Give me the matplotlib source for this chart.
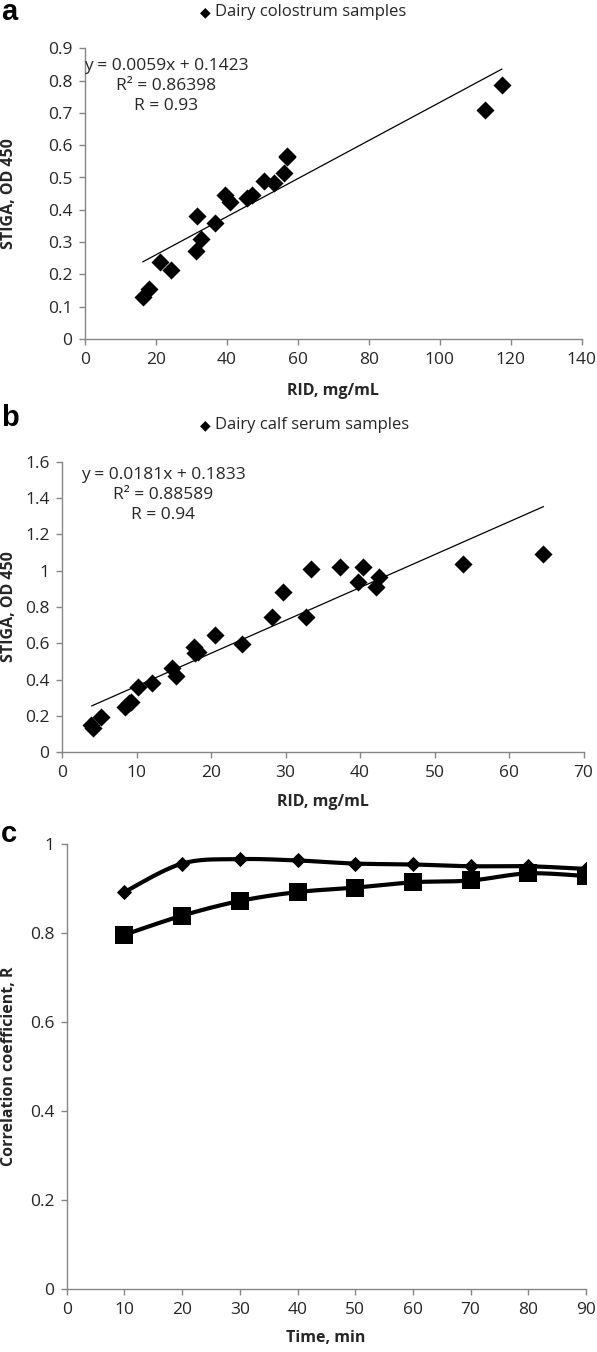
import numpy as np
import matplotlib
matplotlib.use("Agg")
import matplotlib.pyplot as plt

plt.rcParams['font.family'] = ['Open Sans', 'DejaVu Sans']

# ==== data ====
# panel a: dairy colostrum
col_rid = [16.4, 18.0, 21.2, 24.3, 31.3, 31.7, 32.8, 36.6, 39.4, 40.9, 45.8, 47.1,
           50.4, 53.3, 56.1, 56.9, 57.1, 112.9, 117.5]
col_od = [0.131, 0.156, 0.237, 0.215, 0.273, 0.380, 0.309, 0.358, 0.447, 0.423, 0.437, 0.445,
          0.490, 0.482, 0.514, 0.562, 0.568, 0.708, 0.785]
col_slope, col_icpt = 0.0059, 0.1423

# panel b: dairy calf serum
ser_rid = [3.9, 4.2, 5.3, 8.5, 9.0, 9.3, 10.15, 12.1, 14.7, 15.25, 17.7, 17.8, 18.2, 20.6,
           24.1, 28.2, 29.7, 32.75, 33.4, 37.3, 39.75, 40.4, 42.2, 42.6, 53.8, 64.6]
ser_od = [0.150, 0.132, 0.193, 0.251, 0.270, 0.279, 0.358, 0.380, 0.462, 0.420, 0.582, 0.545,
          0.554, 0.646, 0.598, 0.747, 0.884, 0.745, 1.009, 1.018, 0.936, 1.022, 0.908, 0.967,
          1.037, 1.090]
ser_slope, ser_icpt = 0.0181, 0.1833

# panel c: correlation over time
time_min = [10, 20, 30, 40, 50, 60, 70, 80, 90]
r_diamond = [0.892, 0.956, 0.966, 0.963, 0.956, 0.954, 0.950, 0.950, 0.944]
r_square = [0.796, 0.839, 0.872, 0.892, 0.902, 0.914, 0.918, 0.934, 0.928]

W, H = 597, 1352
fig = plt.figure(figsize=(W / 100, H / 100), dpi=100)

def box(x0, x1, ybot, ytop):
    # pixel box -> figure fraction
    return [x0 / W, 1 - ybot / H, (x1 - x0) / W, (ybot - ytop) / H]

def ftext(x, y, s, **kw):
    return fig.text(x / W, 1 - y / H, s, **kw)

def style(ax):
    for s in ['top', 'right']:
        ax.spines[s].set_visible(False)
    for s in ['left', 'bottom']:
        ax.spines[s].set_color('#868686')
        ax.spines[s].set_linewidth(1.0)
    ax.tick_params(direction='out', length=4, width=1.0, color='#868686',
                   labelsize=12.5, labelcolor='#262626', pad=5)
    ax.patch.set_alpha(0)

def smooth(x, y, n=20):
    # excel-like smoothed line (bezier)
    x = np.asarray(x, float); y = np.asarray(y, float)
    px = np.concatenate([[x[0]], x, [x[-1]]])
    py = np.concatenate([[y[0]], y, [y[-1]]])
    xs, ys = [], []
    t = np.linspace(0, 1, n)
    for i in range(1, len(x)):
        p0 = np.array([px[i], py[i]]); p3 = np.array([px[i + 1], py[i + 1]])
        p1 = p0 + (np.array([px[i + 1], py[i + 1]]) - np.array([px[i - 1], py[i - 1]])) / 6
        p2 = p3 - (np.array([px[i + 2], py[i + 2]]) - np.array([px[i], py[i]])) / 6
        b = ((1 - t) ** 3)[:, None] * p0 + (3 * (1 - t) ** 2 * t)[:, None] * p1 \
            + (3 * (1 - t) * t ** 2)[:, None] * p2 + (t ** 3)[:, None] * p3
        xs.extend(b[:, 0]); ys.extend(b[:, 1])
    return xs, ys

lab_kw = dict(fontsize=11.5, fontweight='bold', color='#262626')
eq_kw = dict(ha='center', va='center', fontsize=12.5, color='#262626', linespacing=1.3)

# ==== panel a ====
ax1 = fig.add_axes(box(84.7, 581.7, 339, 48.3))
ax1.scatter(col_rid, col_od, marker='D', s=85, color='black', zorder=3, linewidths=0)
xl = np.array([min(col_rid), max(col_rid)])
ax1.plot(xl, col_slope * xl + col_icpt, color='black', lw=0.9)
ax1.set_xlim(0, 140); ax1.set_ylim(0, 0.9)
ax1.set_xticks(range(0, 141, 20))
ax1.set_yticks(np.arange(0, 0.91, 0.1))
ax1.set_yticklabels(['0'] + ['%.1f' % v for v in np.arange(0.1, 0.91, 0.1)])
style(ax1)
ftext(333, 391, 'RID, mg/mL', ha='center', va='center', **lab_kw)
ftext(9, 194, 'STIGA, OD 450', ha='center', va='center', rotation=90, **lab_kw)
ftext(166, 86, 'y = 0.0059x + 0.1423\nR² = 0.86398\nR = 0.93', **eq_kw)

# ==== panel b ====
ax2 = fig.add_axes(box(62, 583.6, 752.3, 461.7))
ax2.scatter(ser_rid, ser_od, marker='D', s=85, color='black', zorder=3, linewidths=0)
xl = np.array([4.0, max(ser_rid)])
ax2.plot(xl, ser_slope * xl + ser_icpt, color='black', lw=0.9)
ax2.set_xlim(0, 70); ax2.set_ylim(0, 1.6)
ax2.set_xticks(range(0, 71, 10))
ax2.set_yticks(np.arange(0, 1.61, 0.2))
ax2.set_yticklabels(['0', '0.2', '0.4', '0.6', '0.8', '1', '1.2', '1.4', '1.6'])
style(ax2)
ftext(323, 802, 'RID, mg/mL', ha='center', va='center', **lab_kw)
ftext(9, 607, 'STIGA, OD 450', ha='center', va='center', rotation=90, **lab_kw)
ftext(163, 495, 'y = 0.0181x + 0.1833\nR² = 0.88589\nR = 0.94', **eq_kw)

# ==== panel c ====
ax3 = fig.add_axes(box(66.7, 586, 1289, 844))
sx, sy = smooth(time_min, r_diamond)
ax3.plot(sx, sy, color='black', lw=3, solid_capstyle='round', zorder=2)
ax3.scatter(time_min, r_diamond, marker='D', s=60, color='black', zorder=3, linewidths=0)
sx, sy = smooth(time_min, r_square)
ax3.plot(sx, sy, color='black', lw=3, solid_capstyle='round', zorder=2)
ax3.scatter(time_min, r_square, marker='s', s=150, color='black', zorder=3, linewidths=0)
ax3.set_xlim(0, 90); ax3.set_ylim(0, 1)
ax3.set_xticks(range(0, 91, 10))
ax3.set_yticks(np.arange(0, 1.01, 0.2))
ax3.set_yticklabels(['0', '0.2', '0.4', '0.6', '0.8', '1'])
style(ax3)
ftext(326, 1338, 'Time, min', ha='center', va='center', **lab_kw)
ftext(9, 1066, 'Correlation coefficient, R', ha='center', va='center', rotation=90, **lab_kw)

# ==== legends / panel letters ====
for y, txt in [(12, 'Dairy colostrum samples'), (425, 'Dairy calf serum samples')]:
    ftext(205, y, '\u25c6', ha='center', va='center', fontsize=10,
          family=['DejaVu Sans'], color='black')
    ftext(215, y, txt, ha='left', va='center', fontsize=12, color='#262626')
for y, lab in [(20, 'a'), (426, 'b'), (842, 'c')]:
    ftext(1, y, lab, ha='left', va='baseline', fontsize=21, fontweight='bold',
          family=['Liberation Sans', 'DejaVu Sans'])

fig.savefig('out.png', dpi=100)
